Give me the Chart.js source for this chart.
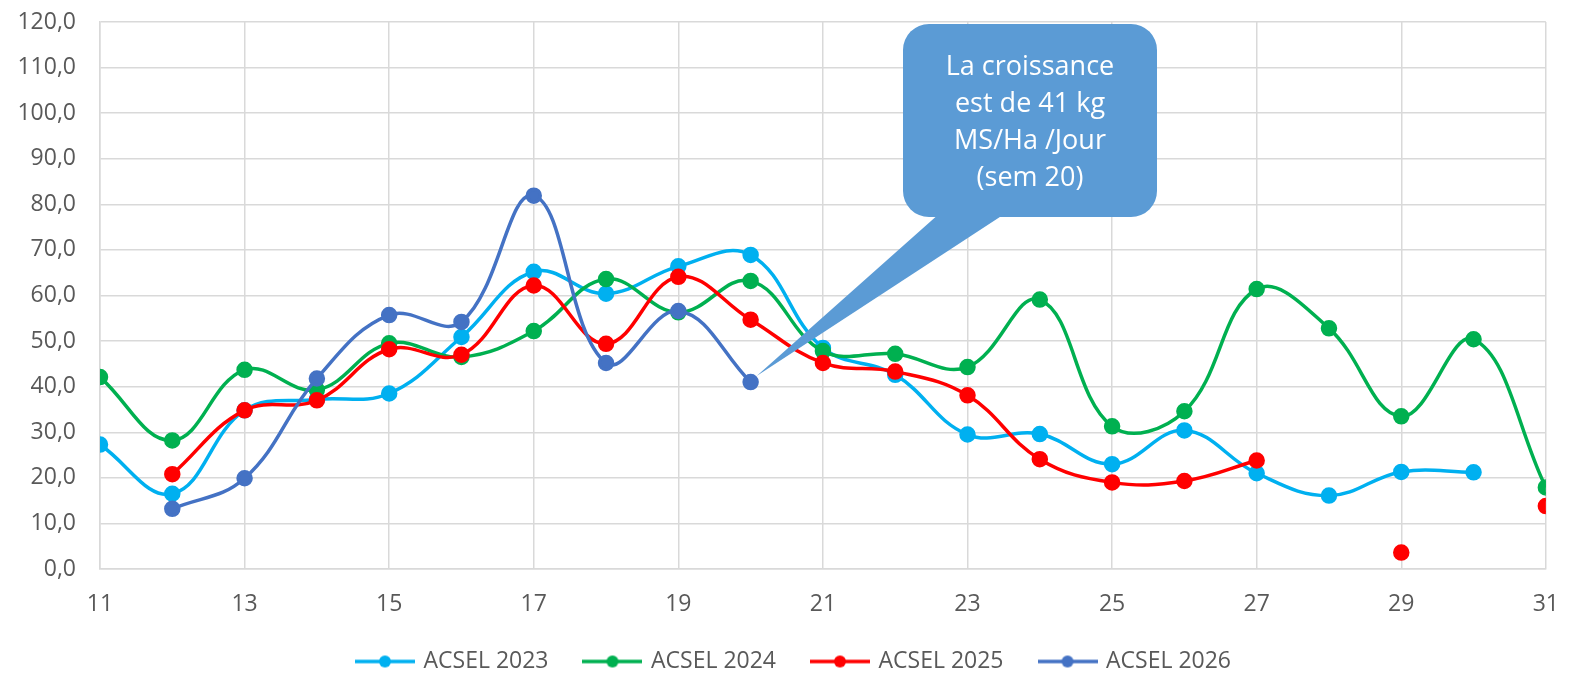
<!DOCTYPE html>
<html>
<head>
<meta charset="utf-8">
<script src="https://cdn.jsdelivr.net/npm/chart.js@4"></script>
<style>
  body { margin: 0; background: #fff; }
  #wrap { width: 1581px; height: 673px; }
</style>
</head>
<body>
<div id="wrap"><canvas id="pousse" width="1581" height="673"></canvas></div>
<script>
// semaines et croissance (kg MS/ha/jour)
const weeks = [11, 12, 13, 14, 15, 16, 17, 18, 19, 20, 21, 22, 23, 24, 25, 26, 27, 28, 29, 30, 31];
const acsel2023 = [27.3, 16.5, 34.8, 37.2, 38.5, 50.9, 65.2, 60.4, 66.4, 68.9, 48.5, 42.6, 29.5, 29.6, 23.0, 30.4, 21.0, 16.1, 21.3, 21.2, null];
const acsel2024 = [42.1, 28.2, 43.7, 39.3, 49.5, 46.5, 52.2, 63.6, 56.3, 63.2, 47.8, 47.2, 44.3, 59.1, 31.3, 34.6, 61.4, 52.8, 33.5, 50.4, 17.9];
const acsel2025 = [null, 20.8, 34.8, 37.0, 48.2, 47.0, 62.2, 49.4, 64.1, 54.7, 45.2, 43.3, 38.1, 24.1, 19.0, 19.3, 23.8, null, 3.6, null, 13.8];
const acsel2026 = [null, 13.2, 19.9, 41.8, 55.7, 54.2, 81.9, 45.2, 56.6, 41.0, null, null, null, null, null, null, null, null, null, null, null];
const seriesNames = ['ACSEL 2023', 'ACSEL 2024', 'ACSEL 2025', 'ACSEL 2026'];
const calloutLines = ['La croissance', 'est de 41 kg', 'MS/Ha /Jour', '(sem 20)'];
const calloutWeek = 20;
const calloutValue = 41.0;

const colors = {
    lightBlue: '#00b0f0',
    green: '#00b050',
    red: '#ff0000',
    blue: '#4472c4',
    callout: '#5b9bd5',
    text: '#595959',
    grid: '#d9d9d9'
};
const FONT = "'Open Sans', sans-serif";

function toPoints(values) {
    return weeks.map((w, i) => ({ x: w, y: values[i] }));
}

/* ─── legend marker: line + dot ─────────────── */
function legendMarker(color) {
    const c = document.createElement('canvas');
    c.width = 60;
    c.height = 14;
    const g = c.getContext('2d');
    g.strokeStyle = color;
    g.lineWidth = 3.5;
    g.beginPath();
    g.moveTo(0, 7);
    g.lineTo(60, 7);
    g.stroke();
    g.fillStyle = color;
    g.beginPath();
    g.arc(30, 7, 6, 0, Math.PI * 2);
    g.fill();
    return c;
}

function makeDataset(label, values, color, order) {
    return {
        label: label,
        data: toPoints(values),
        borderColor: color,
        backgroundColor: color,
        pointBackgroundColor: color,
        pointBorderColor: color,
        borderWidth: 3.5,
        pointRadius: 6.5,
        pointHoverRadius: 7,
        tension: 0.4,
        spanGaps: false,
        order: order,
        marker: legendMarker(color)
    };
}

/* ─── nudge legend right, like the Excel one ─── */
const legendShift = {
    id: 'legendShift',
    afterLayout(chart) {
        if (!chart.legend) return;
        chart.legend.left += 8;
        chart.legend.right += 8;
    }
};

/* ─── callout bubble ─────────────────────────── */
const calloutPlugin = {
    id: 'callout',
    afterDatasetsDraw(chart) {
        const ctx = chart.ctx;
        const tipX = chart.scales.x.getPixelForValue(calloutWeek) + 6;
        const tipY = chart.scales.y.getPixelForValue(calloutValue) - 6;
        const box = { l: 903, t: 24, r: 1157, b: 217, rad: 26 };
        ctx.save();
        ctx.fillStyle = colors.callout;
        ctx.beginPath();
        ctx.roundRect(box.l, box.t, box.r - box.l, box.b - box.t, box.rad);
        ctx.fill();
        ctx.beginPath();
        ctx.moveTo(940, box.b - 4);
        ctx.lineTo(1006, box.b - 4);
        ctx.lineTo(tipX, tipY);
        ctx.closePath();
        ctx.fill();
        ctx.fillStyle = '#ffffff';
        ctx.font = "27px " + FONT;
        ctx.textAlign = 'center';
        ctx.textBaseline = 'middle';
        calloutLines.forEach((line, i) => {
            ctx.fillText(line, 1030, 67 + i * 37);
        });
        ctx.restore();
    }
};

new Chart(document.getElementById('pousse').getContext('2d'), {
    type: 'line',
    data: {
        datasets: [
            makeDataset(seriesNames[0], acsel2023, colors.lightBlue, 4),
            makeDataset(seriesNames[1], acsel2024, colors.green, 3),
            makeDataset(seriesNames[2], acsel2025, colors.red, 2),
            makeDataset(seriesNames[3], acsel2026, colors.blue, 1)
        ]
    },
    options: {
        responsive: false,
        animation: false,
        // legend padding is large to space the items, so bottom padding goes negative
        layout: { padding: { left: 10, right: 18, top: 22, bottom: -10 } },
        plugins: {
            tooltip: { enabled: false },
            legend: {
                position: 'bottom',
                labels: {
                    usePointStyle: true,
                    pointStyleWidth: 54,
                    padding: 37,
                    color: colors.text,
                    font: { family: FONT, size: 23 },
                    generateLabels(chart) {
                        return chart.data.datasets.map((ds, i) => ({
                            text: ds.label,
                            fillStyle: ds.borderColor,
                            strokeStyle: ds.borderColor,
                            pointStyle: ds.marker,
                            fontColor: colors.text,
                            hidden: false,
                            datasetIndex: i
                        }));
                    }
                }
            }
        },
        scales: {
            x: {
                type: 'linear',
                min: 11,
                max: 31,
                afterFit: s => { s.height = 44; },
                grid: { color: colors.grid, lineWidth: 1.5, drawTicks: false },
                border: { color: colors.grid, width: 1.5 },
                ticks: {
                    stepSize: 2,
                    padding: 22,
                    color: colors.text,
                    font: { family: FONT, size: 23 }
                }
            },
            y: {
                min: 0,
                max: 120,
                afterFit: s => { s.width = 90; },
                grid: { color: colors.grid, lineWidth: 1.5, drawTicks: true, tickLength: 20, tickColor: 'rgba(0,0,0,0)' },
                border: { color: colors.grid, width: 1.5 },
                ticks: {
                    stepSize: 10,
                    padding: 4,
                    color: colors.text,
                    font: { family: FONT, size: 23 },
                    callback: v => v.toFixed(1).replace('.', ',')
                }
            }
        }
    },
    plugins: [calloutPlugin, legendShift]
});
</script>
</body>
</html>
